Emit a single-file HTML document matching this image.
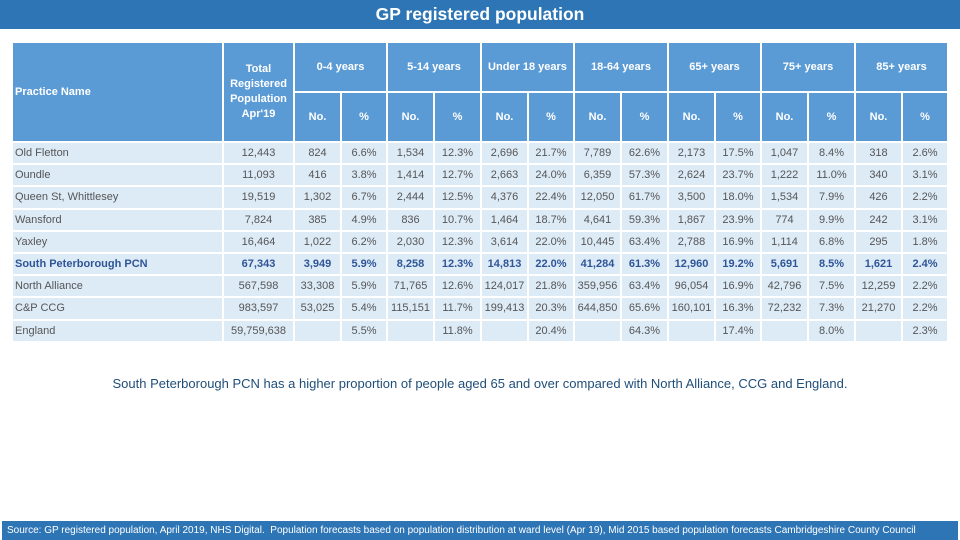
<!DOCTYPE html>
<html><head><meta charset="utf-8">
<style>
body{margin:0;width:960px;height:540px;position:relative;background:#fff;font-family:"Liberation Sans",Arial,sans-serif;overflow:hidden}
#title{position:absolute;left:0;top:0;width:960px;height:29px;background:#2E75B6;color:#fff;font-weight:bold;font-size:17.5px;text-align:center;line-height:29px}
#tbl{position:absolute;left:11px;top:41px;border-collapse:collapse;table-layout:fixed}
#tbl td{border:2px solid #fff;padding:0;font-size:11px;text-align:center;color:#555;white-space:nowrap;overflow:hidden}
#tbl tr.h td{background:#5B9BD5;color:#fff;font-weight:bold;font-size:11px;line-height:15px}
#tbl tr.d td{background:#DDEBF7;height:20.2px}
#tbl td.name{text-align:left;padding-left:2px}
#tbl tr.b td{color:#2F5597;font-weight:bold}
#note{position:absolute;left:0;top:376px;width:960px;text-align:center;font-size:13px;color:#1F4E79}
#foot{position:absolute;left:2px;top:521px;width:956px;height:19px;background:#2E75B6;color:#fff;font-size:10px;line-height:19px;padding-left:5px;box-sizing:border-box;white-space:nowrap;overflow:hidden}
</style></head><body>
<div id="title">GP registered population</div>
<table id="tbl">
<colgroup><col style="width:211px"><col style="width:71px">
<col style="width:47px"><col style="width:46px"><col style="width:47px"><col style="width:47px"><col style="width:47px"><col style="width:46px"><col style="width:47px"><col style="width:47px"><col style="width:47px"><col style="width:46px"><col style="width:47px"><col style="width:47px"><col style="width:47px"><col style="width:46px"></colgroup>
<tbody id="tb">
<tr class="h" style="height:50px"><td rowspan="2" class="name">Practice Name</td><td rowspan="2">Total<br>Registered<br>Population<br>Apr'19</td>
<td colspan="2">0-4 years</td><td colspan="2">5-14 years</td><td colspan="2">Under 18 years</td><td colspan="2">18-64 years</td><td colspan="2">65+ years</td><td colspan="2">75+ years</td><td colspan="2">85+ years</td></tr>
<tr class="h" style="height:50px"><td>No.</td><td>%</td><td>No.</td><td>%</td><td>No.</td><td>%</td><td>No.</td><td>%</td><td>No.</td><td>%</td><td>No.</td><td>%</td><td>No.</td><td>%</td></tr>
</tbody></table>
<div id="note">South Peterborough PCN has a higher proportion of people aged 65 and over compared with North Alliance, CCG and England.</div>
<div id="foot">Source: GP registered population, April 2019, NHS Digital.&nbsp; Population forecasts based on population distribution at ward level (Apr 19), Mid 2015 based population forecasts Cambridgeshire County Council</div>
<script>
const practices=["Old Fletton","Oundle","Queen St, Whittlesey","Wansford","Yaxley","South Peterborough PCN","North Alliance","C&P CCG","England"];
const totals=["12,443","11,093","19,519","7,824","16,464","67,343","567,598","983,597","59,759,638"];
const r1=["824","6.6%","1,534","12.3%","2,696","21.7%","7,789","62.6%","2,173","17.5%","1,047","8.4%","318","2.6%"];
const r2=["416","3.8%","1,414","12.7%","2,663","24.0%","6,359","57.3%","2,624","23.7%","1,222","11.0%","340","3.1%"];
const r3=["1,302","6.7%","2,444","12.5%","4,376","22.4%","12,050","61.7%","3,500","18.0%","1,534","7.9%","426","2.2%"];
const r4=["385","4.9%","836","10.7%","1,464","18.7%","4,641","59.3%","1,867","23.9%","774","9.9%","242","3.1%"];
const r5=["1,022","6.2%","2,030","12.3%","3,614","22.0%","10,445","63.4%","2,788","16.9%","1,114","6.8%","295","1.8%"];
const r6=["3,949","5.9%","8,258","12.3%","14,813","22.0%","41,284","61.3%","12,960","19.2%","5,691","8.5%","1,621","2.4%"];
const r7=["33,308","5.9%","71,765","12.6%","124,017","21.8%","359,956","63.4%","96,054","16.9%","42,796","7.5%","12,259","2.2%"];
const r8=["53,025","5.4%","115,151","11.7%","199,413","20.3%","644,850","65.6%","160,101","16.3%","72,232","7.3%","21,270","2.2%"];
const r9=["","5.5%","","11.8%","","20.4%","","64.3%","","17.4%","","8.0%","","2.3%"];
const rows=[r1,r2,r3,r4,r5,r6,r7,r8,r9];
const tb=document.getElementById('tb');
practices.forEach((p,i)=>{
  const tr=document.createElement('tr');
  tr.className='d'+(i===5?' b':'');
  
  
  const c=[p,totals[i]].concat(rows[i]);
  c.forEach((v,j)=>{
    const td=document.createElement('td');
    if(j===0)td.className='name';
    td.textContent=v;
    tr.appendChild(td);
  });
  tb.appendChild(tr);
});
</script>
</body></html>
